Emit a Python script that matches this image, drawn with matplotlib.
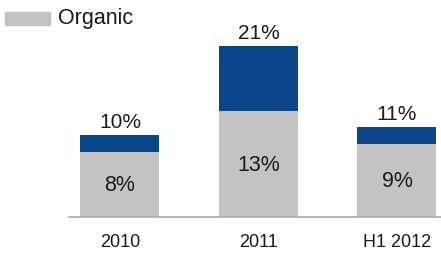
import matplotlib.pyplot as plt
import numpy as np

plt.rcParams['font.family'] = ['Liberation Sans', 'DejaVu Sans']

categories = ['2010', '2011', 'H1 2012']
organic = [8, 13, 9]
total = [10, 21, 11]
other = [t - o for t, o in zip(total, organic)]

gray = '#c3c3c3'
blue = '#0c4589'
txt = '#1a1a1a'

W, H = 441, 257
fig = plt.figure(figsize=(W / 100, H / 100), dpi=100)
# axes placed in pixel terms: baseline at y=217, left edge at x=69
ax = fig.add_axes([69 / W, 40 / H, (W - 69) / W, 217 / H])

x = np.arange(len(categories))
ax.bar(x, organic, width=0.57, color=gray, label='Organic')
ax.bar(x, other, width=0.57, bottom=organic, color=blue)

for xi, o, t in zip(x, organic, total):
    ax.text(xi, o / 2 - 0.15, f'{o}%', ha='center', va='center', fontsize=15.5, color=txt)
    ax.text(xi, t + 1.55, f'{t}%', ha='center', va='center', fontsize=15, color=txt)

ax.set_xlim(-0.368, 2.318)
ax.set_ylim(0, 26.6)
ax.set_xticks(x)
ax.set_xticklabels(categories, fontsize=13, color=txt)
ax.tick_params(axis='x', length=0, pad=12)
ax.set_yticks([])
for s in ['top', 'right', 'left']:
    ax.spines[s].set_visible(False)
ax.spines['bottom'].set_color('#aaaaaa')
ax.spines['bottom'].set_linewidth(1.2)

# legend swatch drawn at top left
fig.patches.append(plt.Rectangle((5 / W, 1 - 25 / H), 45 / W, 13 / H,
                                 transform=fig.transFigure, color=gray))
fig.text(58 / W, 1 - 18.5 / H, 'Organic', fontsize=15.5, va='center', color=txt)

fig.savefig('out.png', dpi=100)
